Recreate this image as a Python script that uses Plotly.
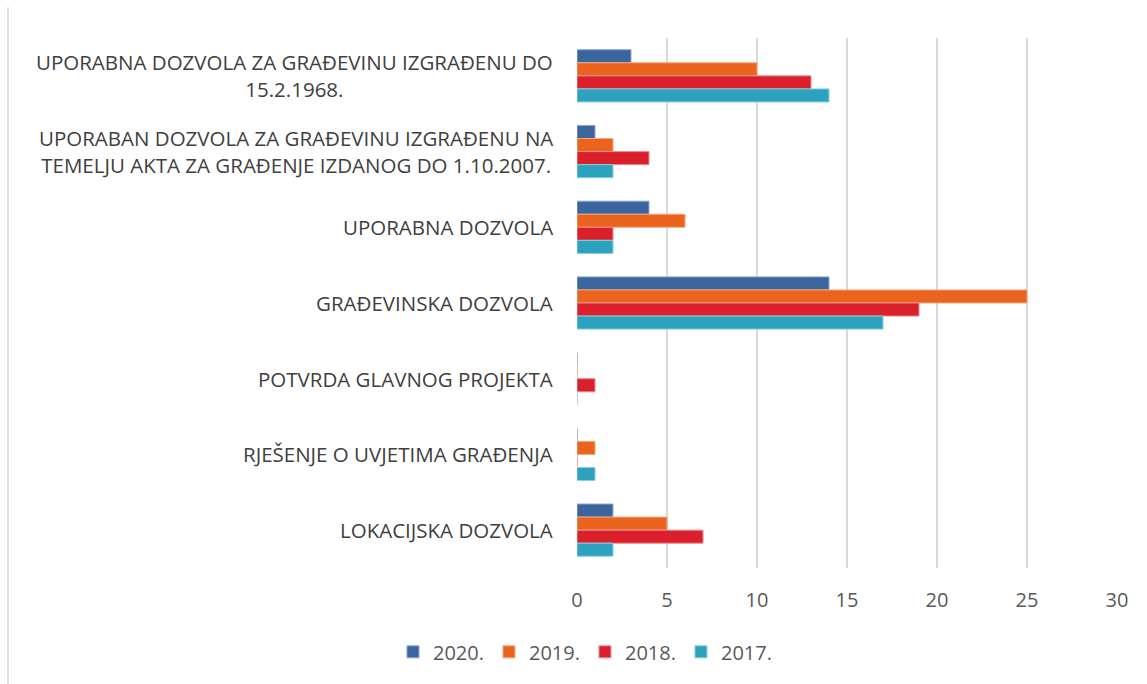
import plotly.graph_objects as go

# Permit types, listed top to bottom
categories = [
    "UPORABNA DOZVOLA ZA GRAĐEVINU IZGRAĐENU DO<br>15.2.1968.",
    "UPORABAN DOZVOLA ZA GRAĐEVINU IZGRAĐENU NA<br>TEMELJU AKTA ZA GRAĐENJE IZDANOG DO 1.10.2007.",
    "UPORABNA DOZVOLA",
    "GRAĐEVINSKA DOZVOLA",
    "POTVRDA GLAVNOG PROJEKTA",
    "RJEŠENJE O UVJETIMA GRAĐENJA",
    "LOKACIJSKA DOZVOLA",
]

years = ["2020.", "2019.", "2018.", "2017."]
values_2020 = [3, 1, 4, 14, 0, 0, 2]
values_2019 = [10, 2, 6, 25, 0, 1, 5]
values_2018 = [13, 4, 2, 19, 1, 0, 7]
values_2017 = [14, 2, 2, 17, 0, 1, 2]
series = [values_2020, values_2019, values_2018, values_2017]

colors = ["#3A659F", "#EA641E", "#DA202B", "#2CA2BF"]
edge_colors = ["#8FA8CC", "#F4A67E", "#EC8A90", "#8ACFE0"]

x_ticks = [0, 5, 10, 15, 20, 25, 30]

FONT = "Open Sans"

fig = go.Figure()
for name, vals, col, edge in zip(years, series, colors, edge_colors):
    fig.add_trace(go.Bar(
        y=categories, x=vals, name=name, orientation="h",
        marker=dict(color=col, line=dict(color=edge, width=1)),
    ))

# Category labels drawn as centred multi-line text to the left of the bars
for cat in categories:
    fig.add_annotation(
        x=0, y=cat, xref="paper", yref="y",
        text=cat, showarrow=False, xanchor="right", yanchor="middle",
        align="center", xshift=-22,
        font=dict(family=FONT, size=20.5, color="#404040"),
    )

# Thin frame edge on the left of the chart area
fig.add_shape(
    type="line", xref="paper", yref="paper",
    x0=-1.0537, x1=-1.0537, y0=1.058, y1=-0.25,
    line=dict(color="#D9D9D9", width=1.5),
)

fig.update_layout(
    width=1147, height=684,
    margin=dict(l=577, r=30, t=38, b=116),
    paper_bgcolor="white", plot_bgcolor="white",
    barmode="group", bargap=0.31, bargroupgap=0,
    font=dict(family=FONT, color="#595959"),
    showlegend=True,
    legend=dict(
        orientation="h", xref="container", yref="container",
        x=0.51, xanchor="center", y=0.047, yanchor="middle",
        font=dict(family=FONT, size=20, color="#595959"),
        traceorder="normal", itemwidth=30,
    ),
    xaxis=dict(
        range=[0, 30], tickvals=x_ticks, showgrid=True,
        gridcolor="#D9D9D9", gridwidth=1.5, zeroline=False,
        showline=False, ticks="outside", ticklen=0,
        tickfont=dict(family=FONT, size=20, color="#595959"),
        ticklabelstandoff=14,
    ),
    yaxis=dict(
        categoryorder="array", categoryarray=categories,
        autorange="reversed", showticklabels=False,
        showgrid=False, zeroline=False, showline=False,
    ),
)

fig.write_html("out.html")
